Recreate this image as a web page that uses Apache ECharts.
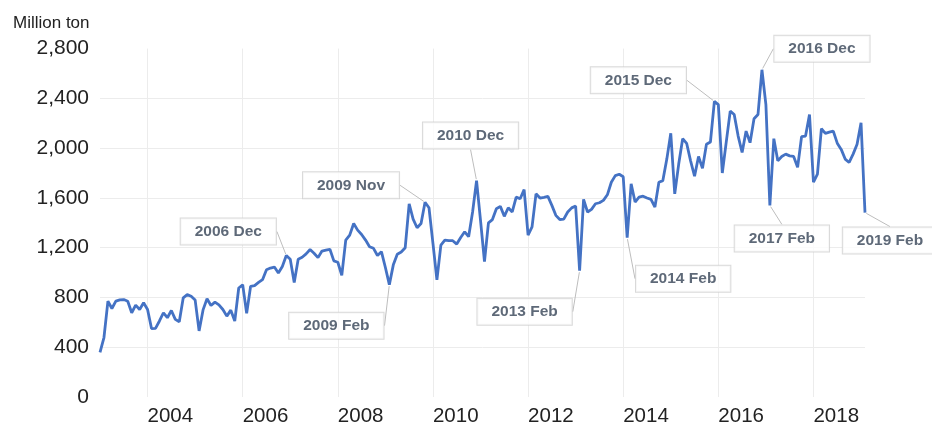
<!DOCTYPE html>
<html>
<head>
<meta charset="utf-8">
<script src="https://cdn.jsdelivr.net/npm/echarts@6/dist/echarts.min.js"></script>
<style>
html,body{margin:0;padding:0;background:#fff;}
#chart{width:932px;height:427px;}
</style>
</head>
<body>
<div id="chart"></div>
<script>
// Monthly values, 2003 Jan .. 2019 Feb (million ton)
const startYear = 2003;
const values = [
  358, 478, 770, 711, 770, 780, 783, 770, 677, 738, 703, 757,
  703, 550, 552, 611, 677, 637, 695, 624, 605, 797, 823, 810,
  780, 531, 700, 789, 735, 762, 740, 703, 650, 698, 611, 876,
  902, 672, 890, 895, 921, 943, 1022, 1036, 1044, 996, 1049, 1137,
  1107, 921, 1107, 1123, 1150, 1185, 1155, 1120, 1173, 1181, 1187, 1094,
  1083, 977, 1261, 1301, 1394, 1341, 1306, 1261, 1208, 1195, 1137, 1168,
  1041, 903, 1062, 1147, 1165, 1200, 1553, 1430, 1360, 1394, 1565, 1521,
  1235, 942, 1221, 1261, 1256, 1256, 1229, 1282, 1328, 1288, 1487, 1739,
  1420, 1089, 1400, 1426, 1513, 1532, 1452, 1521, 1487, 1606, 1593, 1667,
  1301, 1367, 1633, 1599, 1605, 1612, 1540, 1460, 1426, 1430, 1487, 1520,
  1535, 1015, 1588, 1487, 1508, 1553, 1561, 1580, 1625, 1726, 1779, 1790,
  1770, 1280, 1713, 1567, 1606, 1614, 1599, 1588, 1527, 1726, 1739, 1912,
  2119, 1633, 1872, 2076, 2039, 1898, 1774, 1933, 1838, 2031, 2049, 2376,
  2350, 1800, 2050, 2297, 2270, 2097, 1965, 2137, 2044, 2236, 2270, 2630,
  2350, 1540, 2076, 1898, 1933, 1952, 1938, 1933, 1846, 2093, 2097, 2270,
  1726, 1792, 2156, 2119, 2129, 2137, 2040, 1990, 1912, 1885, 1952, 2031,
  2204, 1482
];
const monthNames = ['Jan','Feb','Mar','Apr','May','Jun','Jul','Aug','Sep','Oct','Nov','Dec'];
const xTickYears = ['2004','2006','2008','2010','2012','2014','2016','2018'];
const yTicks = [0, 400, 800, 1200, 1600, 2000, 2400, 2800];
const annotations = ['2006 Dec','2009 Feb','2009 Nov','2010 Dec','2013 Feb','2014 Feb','2015 Dec','2016 Dec','2017 Feb','2019 Feb'];
// label box offsets from the annotated point (layout only)
const annoOffsets = [[-58,-24],[-53,41],[-74,-17],[-6,-45],[-55,41],[56,41],[-76,-21],[60,-21],[12,33],[25,28]];

const categories = values.map((v, i) => {
  const y = startYear + Math.floor(i / 12);
  return y + ' ' + monthNames[i % 12];
});
const annoData = annotations.map(a => {
  const idx = categories.indexOf(a);
  return { value: [a, values[idx]], name: a };
});
const isTick = (idx, val) => xTickYears.some(y => val === y + ' Jan');

const chart = echarts.init(document.getElementById('chart'));
chart.setOption({
  animation: false,
  title: {
    text: 'Million ton', left: 8, top: 10,
    textStyle: { fontFamily: 'Liberation Sans', fontSize: 17, fontWeight: 'normal', color: '#222' }
  },
  grid: { left: 100, right: 67, top: 48.6, bottom: 27, containLabel: false },
  xAxis: {
    type: 'category', data: categories, boundaryGap: false,
    axisLine: { show: false }, axisTick: { show: false },
    axisLabel: {
      interval: isTick, align: 'left', margin: 9,
      formatter: v => v.slice(0, 4),
      fontFamily: 'Liberation Sans', fontSize: 20.5, color: '#222'
    },
    splitLine: { show: true, interval: isTick, lineStyle: { color: '#ececec', width: 1 } }
  },
  yAxis: {
    type: 'value', min: yTicks[0], max: yTicks[yTicks.length - 1], interval: 400,
    axisLine: { show: false }, axisTick: { show: false },
    axisLabel: {
      margin: 11, fontFamily: 'Liberation Sans', fontSize: 21, color: '#222',
      formatter: v => v.toLocaleString('en-US')
    },
    splitLine: { show: true, showMinLine: false, showMaxLine: false, lineStyle: { color: '#ececec', width: 1 } }
  },
  series: [
    {
      type: 'line', data: values, showSymbol: false, symbol: 'none',
      lineStyle: { color: '#4472c4', width: 2.8 }, z: 2, silent: true
    },
    {
      type: 'scatter', data: annoData, symbol: 'circle', symbolSize: 3,
      itemStyle: { color: 'rgba(0,0,0,0)' }, z: 5, silent: true,
      label: {
        show: true, position: 'inside',
        formatter: p => p.name,
        fontFamily: 'Liberation Sans', fontSize: 15.5, fontWeight: 'bold', color: '#364356',
        backgroundColor: '#ffffff', borderColor: '#d0d0d0', borderWidth: 1,
        padding: [5, 14], lineHeight: 16
      },
      labelLine: { show: true, length2: 0, lineStyle: { color: '#bdbdbd', width: 1 } },
      labelLayout: p => ({ dx: annoOffsets[p.dataIndex][0], dy: annoOffsets[p.dataIndex][1] })
    }
  ]
});
</script>
</body>
</html>
